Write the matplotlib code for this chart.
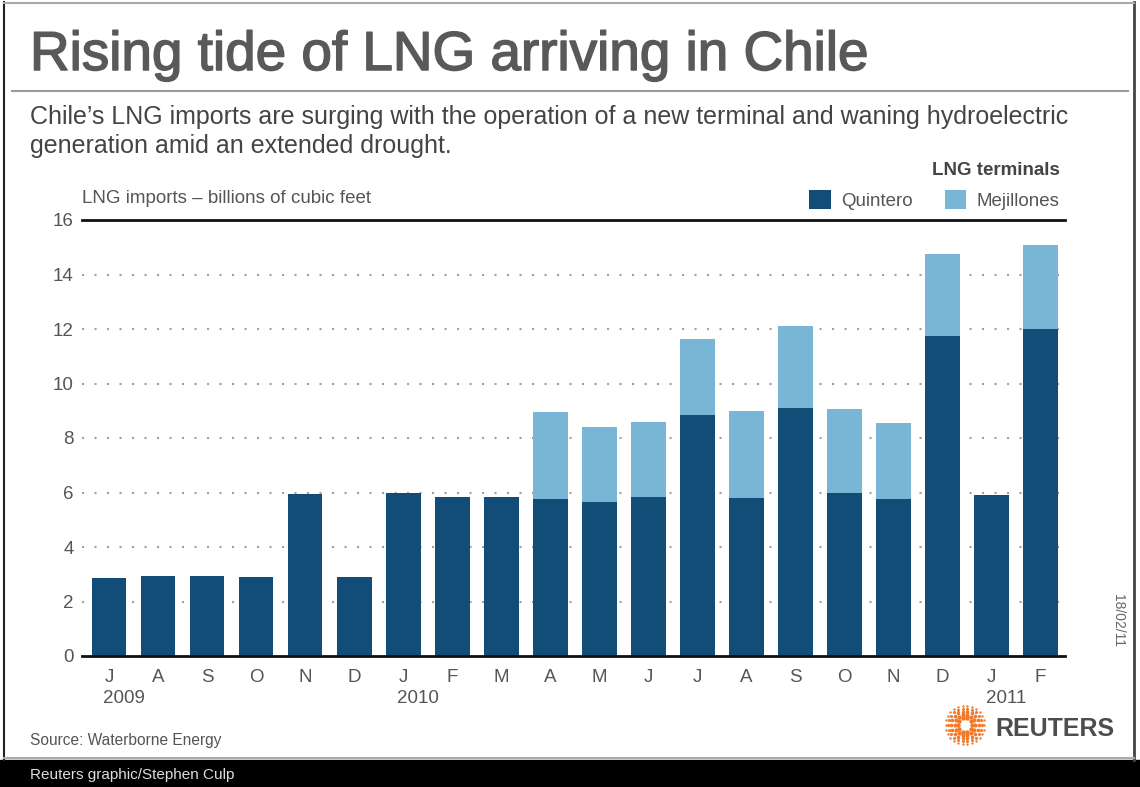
import numpy as np
import matplotlib
matplotlib.use('Agg')
import matplotlib.pyplot as plt
import matplotlib.patheffects as pe
from matplotlib.patches import Rectangle
from matplotlib.lines import Line2D

plt.rcParams['font.family'] = ['Liberation Sans', 'DejaVu Sans']

# monthly LNG imports, billions of cubic feet (Jul 2009 - Feb 2011)
months = ['J', 'A', 'S', 'O', 'N', 'D', 'J', 'F', 'M', 'A', 'M', 'J', 'J', 'A', 'S', 'O', 'N', 'D', 'J', 'F']
years = ['2009', '2010', '2011']
year_pos = [0, 6, 18]
quintero = [2.85, 2.95, 2.95, 2.9, 5.95, 2.9, 6.0, 5.85, 5.85, 5.75, 5.65, 5.85, 8.85, 5.8, 9.1, 6.0, 5.75, 11.75, 5.9, 12.0]
mejillones = [0, 0, 0, 0, 0, 0, 0, 0, 0, 3.2, 2.75, 2.75, 2.8, 3.2, 3.0, 3.05, 2.8, 3.0, 0, 3.1]

dark = '#114d77'
light = '#79b5d4'
txt = '#555555'
fs = 13.5

W, H = 1140, 787
fig = plt.figure(figsize=(W/100, H/100), dpi=100)

def fx(x): return x/W
def fy(y): return 1-y/H

# frame
fig.patches.append(Rectangle((0, 0), 1, fy(760), transform=fig.transFigure, color='black', zorder=0))
fig.add_artist(Line2D([fx(4), fx(4)], [fy(2), fy(760)], color='#222222', lw=1.5))
fig.add_artist(Line2D([fx(1134), fx(1134)], [fy(2), fy(760)], color='#444444', lw=2))
fig.add_artist(Line2D([fx(4), fx(1134)], [fy(3), fy(3)], color='#aaaaaa', lw=1.5))
fig.add_artist(Line2D([fx(4), fx(1134)], [fy(758), fy(758)], color='#aaaaaa', lw=1.5))
fig.add_artist(Line2D([fx(12), fx(1128)], [fy(91), fy(91)], color='#9a9a9a', lw=1.5))

t = fig.text(fx(30), fy(70), 'Rising tide of LNG arriving in Chile', fontsize=39.5, color='#58595b', va='baseline')
t.set_path_effects([pe.withStroke(linewidth=1.1, foreground='#58595b')])
fig.text(fx(30), fy(124), 'Chile\u2019s LNG imports are surging with the operation of a new terminal and waning hydroelectric',
         fontsize=18, color='#444444', va='baseline')
fig.text(fx(30), fy(153), 'generation amid an extended drought.', fontsize=18, color='#444444', va='baseline')

ax = fig.add_axes([fx(82), fy(656), fx(1065)-fx(82), fy(220)-fy(656)])
x = np.arange(len(months))
b1 = ax.bar(x, quintero, width=0.71, color=dark, zorder=2, label='Quintero')
b2 = ax.bar(x, mejillones, width=0.71, bottom=quintero, color=light, zorder=2, label='Mejillones')

ax.set_xlim(-0.55, len(months)-0.5)
ax.set_ylim(0, 16)
ax.set_yticks(range(0, 17, 2))
ax.set_xticks(x)
ax.set_xticklabels(months)
ax.tick_params(axis='both', length=0, labelsize=fs, colors=txt)
ax.tick_params(axis='y', pad=6)
ax.tick_params(axis='x', pad=9)
for s in ['left', 'right']:
    ax.spines[s].set_visible(False)
for s in ['top', 'bottom']:
    ax.spines[s].set_linewidth(2)
    ax.spines[s].set_color('#111111')
for v in range(2, 16, 2):
    ax.axhline(v, color='#a0a0a0', lw=1.5, ls=(0, (1, 5)), zorder=1)

for yr, p in zip(years, year_pos):
    ax.text(p-0.12, -1.55, yr, ha='left', va='center', fontsize=fs, color=txt)

ax.text(0, 1.05, 'LNG imports \u2013 billions of cubic feet', transform=ax.transAxes,
        fontsize=fs, color=txt, va='center')

leg = ax.legend(handles=[b1, b2], ncol=2, frameon=False, title='LNG terminals', alignment='right',
                loc='lower right', bbox_to_anchor=(1.005, 1.0), fontsize=fs, handlelength=1.15,
                handleheight=1.15, handletextpad=0.55, columnspacing=1.7, borderpad=0.1,
                borderaxespad=0.45)
leg.get_title().set_fontweight('bold')
leg.get_title().set_fontsize(fs)
leg.get_title().set_color('#444444')
leg._legend_box.sep = 8
for t in leg.get_texts():
    t.set_color(txt)

fig.text(fx(1118), fy(620), '18/02/11', rotation=270, fontsize=10, color='#666666', ha='center', va='center')
fig.text(fx(30), fy(741), 'Source: Waterborne Energy', fontsize=11.2, color=txt, va='center')
fig.text(fx(30), fy(775), 'Reuters graphic/Stephen Culp', fontsize=11, color='#dddddd', va='center')

# reuters logo
lax = fig.add_axes([fx(943), fy(747), fx(44), fx(44)*W/H])
lax.set_xlim(-1.1, 1.1)
lax.set_ylim(-1.1, 1.1)
lax.axis('off')
for r, n, sz in [(0.35, 10, 10), (0.52, 14, 9), (0.68, 18, 7), (0.83, 22, 5), (0.97, 26, 3)]:
    a = np.linspace(0, 2*np.pi, n, endpoint=False)
    lax.scatter(r*np.cos(a), r*np.sin(a), s=sz, color='#f07a2e', lw=0)
fig.text(fx(995), fy(736), 'REUTERS', fontsize=18, fontweight='bold', color='#4d4d4f', va='baseline')

fig.savefig('out.png', dpi=100)
